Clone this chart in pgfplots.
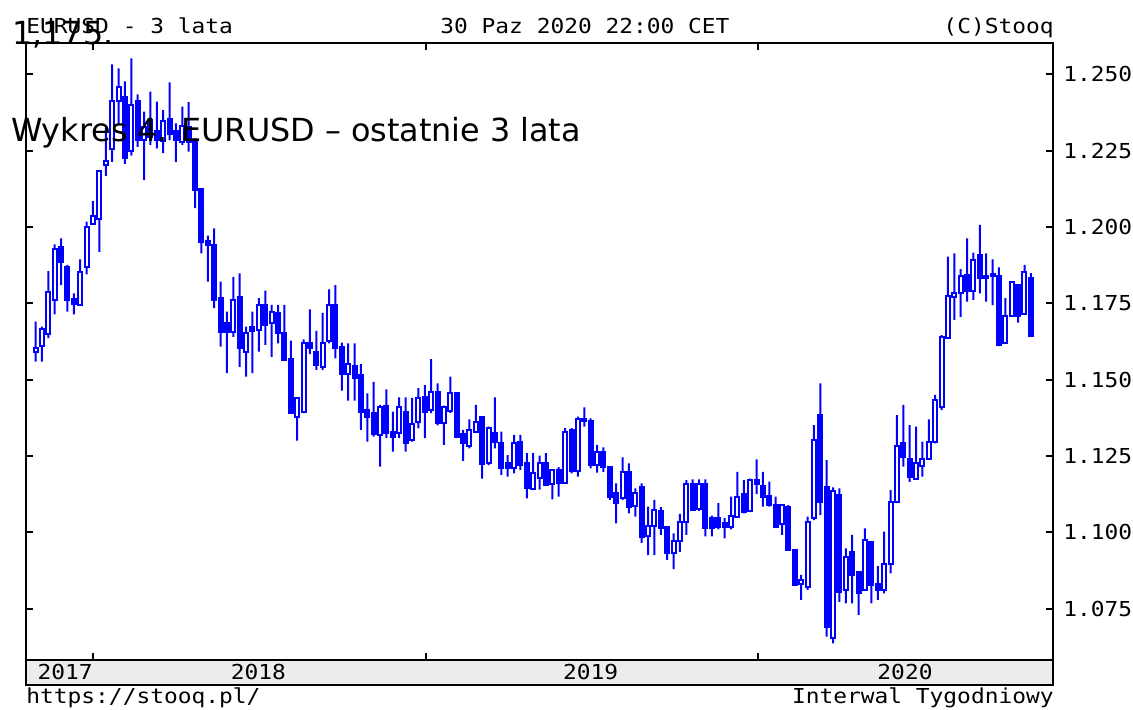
\documentclass[border=0pt]{standalone}
\usepackage{pgfplots}
\pgfplotsset{compat=1.18}
\usepackage{pgfplotstable}
\usepackage{fontspec}
\newfontfamily\monof[FakeStretch=1.11]{DejaVu Sans Mono}
\newfontfamily\sansf{DejaVu Sans}
\newcommand\mono{\monof\fontsize{10.3pt}{12pt}\selectfont}
\newcommand\overlayfont{\sansf\fontsize{15.9pt}{18pt}\selectfont}
\definecolor{candle}{RGB}{0,0,255}
\definecolor{band}{RGB}{236,236,236}

\pgfplotstableread{
i o h l c
-9 1.1592 1.1690 1.1559 1.1605
-8 1.1611 1.1674 1.1559 1.1666
-7 1.1651 1.1856 1.1636 1.1788
-6 1.1761 1.1943 1.1714 1.1927
-5 1.1934 1.1963 1.1810 1.1887
-4 1.1870 1.1876 1.1723 1.1761
-3 1.1764 1.1783 1.1714 1.1747
-2 1.1743 1.1894 1.1743 1.1854
-1 1.1870 1.2018 1.1845 1.2001
0 1.2010 1.2085 1.2007 1.2037
1 1.2027 1.2184 1.1919 1.2184
2 1.2204 1.2324 1.2168 1.2217
3 1.2256 1.2533 1.2214 1.2413
4 1.2413 1.2520 1.2334 1.2460
5 1.2427 1.2477 1.2207 1.2227
6 1.2249 1.2553 1.2234 1.2400
7 1.2413 1.2435 1.2263 1.2285
8 1.2285 1.2378 1.2154 1.2329
9 1.2350 1.2444 1.2269 1.2296
10 1.2315 1.2411 1.2258 1.2285
11 1.2282 1.2383 1.2242 1.2348
12 1.2354 1.2474 1.2285 1.2304
13 1.2315 1.2340 1.2214 1.2285
14 1.2278 1.2395 1.2269 1.2332
15 1.2329 1.2409 1.2247 1.2278
16 1.2285 1.2291 1.2062 1.2122
17 1.2125 1.2125 1.1914 1.1952
18 1.1955 1.1972 1.1821 1.1941
19 1.1941 1.1996 1.1734 1.1761
20 1.1766 1.1821 1.1608 1.1657
21 1.1685 1.1723 1.1521 1.1655
22 1.1657 1.1837 1.1640 1.1761
23 1.1770 1.1848 1.1542 1.1603
24 1.1592 1.1674 1.1510 1.1652
25 1.1671 1.1723 1.1521 1.1660
26 1.1662 1.1767 1.1592 1.1745
27 1.1745 1.1792 1.1614 1.1679
28 1.1685 1.1745 1.1575 1.1723
29 1.1717 1.1745 1.1619 1.1654
30 1.1652 1.1745 1.1564 1.1564
31 1.1567 1.1628 1.1390 1.1390
32 1.1379 1.1442 1.1300 1.1439
33 1.1395 1.1632 1.1390 1.1619
34 1.1619 1.1730 1.1584 1.1603
35 1.1592 1.1660 1.1532 1.1548
36 1.1543 1.1719 1.1532 1.1619
37 1.1625 1.1796 1.1619 1.1745
38 1.1745 1.1810 1.1570 1.1603
39 1.1606 1.1621 1.1464 1.1519
40 1.1519 1.1619 1.1431 1.1551
41 1.1545 1.1619 1.1431 1.1504
42 1.1515 1.1551 1.1335 1.1395
43 1.1400 1.1455 1.1297 1.1379
44 1.1390 1.1493 1.1313 1.1322
45 1.1319 1.1417 1.1215 1.1411
46 1.1414 1.1468 1.1308 1.1324
47 1.1330 1.1395 1.1264 1.1313
48 1.1324 1.1442 1.1308 1.1409
49 1.1395 1.1442 1.1264 1.1291
50 1.1302 1.1440 1.1297 1.1356
51 1.1362 1.1472 1.1340 1.1439
52 1.1442 1.1482 1.1308 1.1395
53 1.1400 1.1567 1.1390 1.1461
54 1.1461 1.1488 1.1350 1.1357
55 1.1359 1.1415 1.1286 1.1411
56 1.1398 1.1510 1.1390 1.1455
57 1.1455 1.1455 1.1313 1.1313
58 1.1322 1.1335 1.1234 1.1294
59 1.1281 1.1370 1.1275 1.1334
60 1.1330 1.1417 1.1330 1.1362
61 1.1376 1.1376 1.1176 1.1225
62 1.1228 1.1346 1.1220 1.1340
63 1.1326 1.1442 1.1275 1.1297
64 1.1291 1.1330 1.1188 1.1209
65 1.1226 1.1253 1.1182 1.1209
66 1.1209 1.1319 1.1193 1.1291
67 1.1297 1.1319 1.1204 1.1220
68 1.1226 1.1259 1.1111 1.1144
69 1.1141 1.1259 1.1138 1.1193
70 1.1177 1.1251 1.1140 1.1226
71 1.1226 1.1259 1.1155 1.1155
72 1.1158 1.1204 1.1108 1.1204
73 1.1204 1.1213 1.1117 1.1162
74 1.1162 1.1341 1.1160 1.1330
75 1.1335 1.1341 1.1193 1.1199
76 1.1199 1.1379 1.1182 1.1370
77 1.1370 1.1409 1.1346 1.1364
78 1.1366 1.1373 1.1209 1.1220
79 1.1220 1.1286 1.1195 1.1264
80 1.1264 1.1278 1.1198 1.1215
81 1.1215 1.1217 1.1106 1.1117
82 1.1128 1.1160 1.1029 1.1097
83 1.1111 1.1245 1.1106 1.1198
84 1.1198 1.1226 1.1062 1.1084
85 1.1086 1.1144 1.1051 1.1130
86 1.1149 1.1160 1.0965 1.0985
87 1.0986 1.1084 1.0925 1.1020
88 1.1020 1.1106 1.0925 1.1073
89 1.1068 1.1082 1.0991 1.1013
90 1.1018 1.1018 1.0909 1.0933
91 1.0933 1.0996 1.0879 1.0972
92 1.0972 1.1060 1.0936 1.1034
93 1.1034 1.1171 1.0991 1.1158
94 1.1158 1.1173 1.1073 1.1073
95 1.1075 1.1173 1.1070 1.1158
96 1.1158 1.1173 1.0986 1.1013
97 1.1046 1.1054 1.0986 1.1013
98 1.1046 1.1095 1.1009 1.1017
99 1.1029 1.1046 1.0980 1.1018
100 1.1018 1.1117 1.1009 1.1053
101 1.1051 1.1198 1.1051 1.1114
102 1.1125 1.1171 1.1062 1.1067
103 1.1070 1.1176 1.1067 1.1171
104 1.1171 1.1239 1.1125 1.1158
105 1.1151 1.1198 1.1084 1.1114
106 1.1118 1.1166 1.1084 1.1089
107 1.1089 1.1117 1.1018 1.1018
108 1.1027 1.1089 1.0991 1.1089
109 1.1084 1.1089 1.0942 1.0942
110 1.0942 1.0942 1.0827 1.0827
111 1.0830 1.0860 1.0778 1.0843
112 1.0822 1.1051 1.0811 1.1034
113 1.1045 1.1351 1.1040 1.1302
114 1.1384 1.1488 1.1056 1.1100
115 1.1149 1.1236 1.0658 1.0690
116 1.0652 1.1147 1.0636 1.1136
117 1.1122 1.1144 1.0772 1.0805
118 1.0810 1.0947 1.0767 1.0920
119 1.0936 1.0991 1.0767 1.0860
120 1.0871 1.0871 1.0729 1.0800
121 1.0811 1.1013 1.0811 1.0975
122 1.0969 1.0969 1.0767 1.0827
123 1.0830 1.0889 1.0778 1.0811
124 1.0811 1.1002 1.0800 1.0896
125 1.0896 1.1138 1.0865 1.1100
126 1.1100 1.1384 1.1095 1.1283
127 1.1291 1.1417 1.1215 1.1248
128 1.1239 1.1351 1.1165 1.1182
129 1.1173 1.1346 1.1173 1.1226
130 1.1217 1.1297 1.1182 1.1239
131 1.1239 1.1370 1.1237 1.1297
132 1.1297 1.1450 1.1291 1.1433
133 1.1411 1.1646 1.1400 1.1639
134 1.1635 1.1903 1.1635 1.1774
135 1.1770 1.1914 1.1696 1.1783
136 1.1783 1.1862 1.1706 1.1838
137 1.1843 1.1963 1.1756 1.1789
138 1.1789 1.1916 1.1761 1.1892
139 1.1909 1.2007 1.1783 1.1832
140 1.1834 1.1914 1.1756 1.1838
141 1.1845 1.1894 1.1744 1.1840
142 1.1841 1.1868 1.1610 1.1614
143 1.1619 1.1767 1.1619 1.1709
144 1.1709 1.1821 1.1709 1.1821
145 1.1810 1.1810 1.1687 1.1709
146 1.1715 1.1876 1.1715 1.1854
147 1.1834 1.1849 1.1643 1.1643
}\eurusd

\begin{document}
\begin{tikzpicture}
\useasboundingbox (0,0) rectangle (566.5pt,355pt);
\pgfplotsset{
  chartbase/.style={
    at={(13pt,25pt)}, anchor=south west, scale only axis,
    width=513.5pt, height=308.5pt,
    xmin=-10.5, xmax=150.47, ymin=1.05813, ymax=1.26032,
  }
}
% wicks
\begin{axis}[chartbase, hide axis, ybar stacked, bar width=1pt]
\addplot[draw=none, fill=none] table[x=i, y=l] {\eurusd};
\addplot[draw=none, fill=candle] table[x=i, y expr=\thisrow{h}-\thisrow{l}] {\eurusd};
\end{axis}
% bodies
\begin{axis}[chartbase, hide axis, ybar stacked, bar width=2pt]
\addplot[draw=none, fill=none] table[x=i, y expr={min(\thisrow{o},\thisrow{c})}] {\eurusd};
\addplot[draw=candle, fill=white, line width=1pt] table[x=i, y expr={max(\thisrow{c}-\thisrow{o},0)}] {\eurusd};
\addplot[draw=candle, fill=candle, line width=1pt] table[x=i, y expr={max(\thisrow{o}-\thisrow{c},0)}] {\eurusd};
\end{axis}
% frame
\begin{axis}[chartbase,
  axis line style={line width=1pt, black},
  every tick/.style={black, line width=1pt},
  tick align=inside,
  major tick length=3.5pt,
  xtick pos=both, ytick pos=both,
  xtick={0,52.14,104.29}, xticklabels={},
  ytick={1.075,1.1,1.125,1.15,1.175,1.2,1.225,1.25},
  yticklabel pos=right,
  /pgf/number format/assume math mode=true,
  yticklabel style={font=\mono, anchor=west, inner sep=0pt, xshift=5pt,
     /pgf/number format/.cd, fixed, fixed zerofill, precision=3},
]
\end{axis}
% date band
\draw[line width=1pt, fill=band] (13pt,12.5pt) rectangle (526.5pt,25pt);
\node[font=\mono, anchor=base east, inner sep=0pt] at (46.5pt,15pt) {2017};
\node[font=\mono, anchor=base, inner sep=0pt] at (129.2pt,15pt) {2018};
\node[font=\mono, anchor=base, inner sep=0pt] at (295.3pt,15pt) {2019};
\node[font=\mono, anchor=base, inner sep=0pt] at (452.5pt,15pt) {2020};
% header / footer
\node[font=\mono, anchor=base west, inner sep=0pt] at (13pt,338.25pt) {EURUSD - 3 lata};
\node[font=\mono, anchor=base west, inner sep=0pt] at (220pt,338.25pt) {30 Paz 2020 22:00 CET};
\node[font=\mono, anchor=base east, inner sep=0pt] at (527pt,338.25pt) {(C)Stooq};
\node[font=\mono, anchor=base west, inner sep=0pt] at (13pt,3pt) {https://stooq.pl/};
\node[font=\mono, anchor=base east, inner sep=0pt] at (527pt,3pt) {Interwal Tygodniowy};
% overlaid document text
\node[font=\overlayfont, anchor=base west, inner sep=0pt] at (6pt,332.5pt) {1,175.};
\node[font=\overlayfont, anchor=base west, inner sep=0pt] at (5.3pt,284pt) {Wykres 4. EURUSD – ostatnie 3 lata};
\end{tikzpicture}
\end{document}
